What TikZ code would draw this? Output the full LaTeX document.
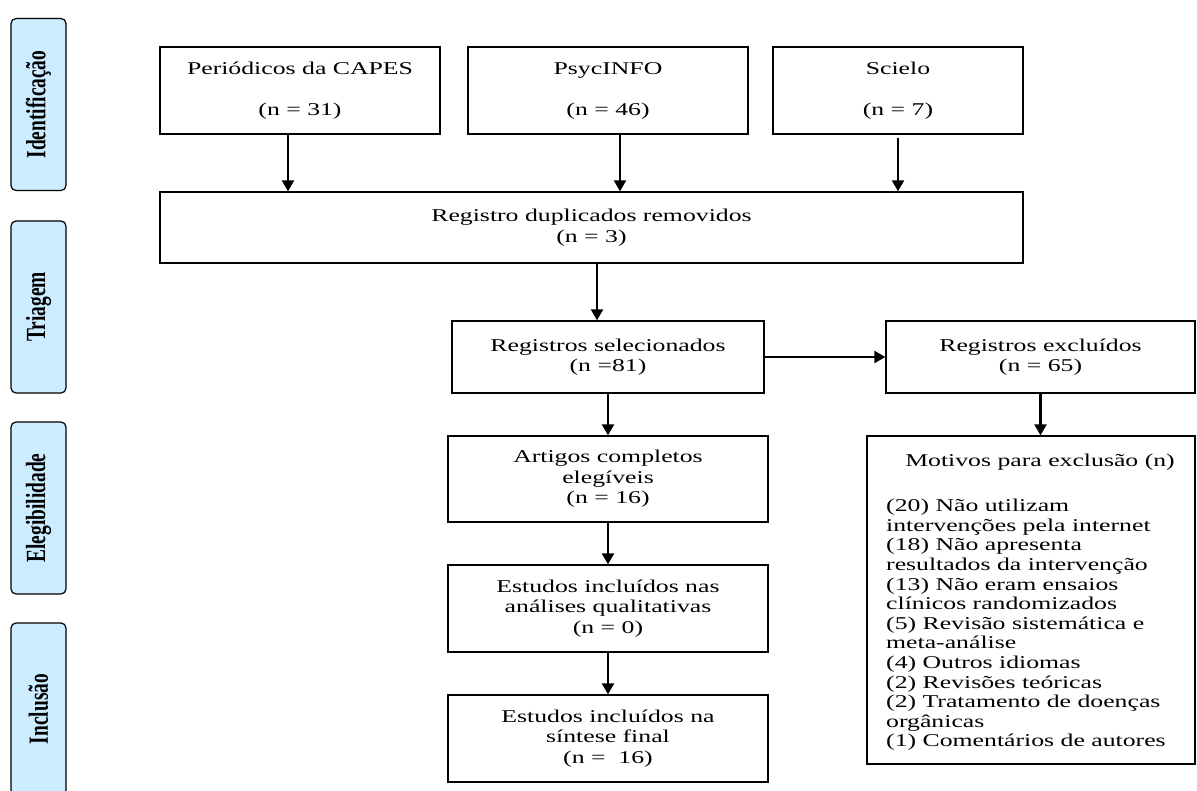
\documentclass[tikz,border=0pt]{standalone}
\usepackage{fontspec}
\setmainfont{Liberation Serif}
\newfontfamily\boxfont[FakeStretch=1.43]{Liberation Serif}
\newfontfamily\phasefont[FakeStretch=0.7]{Liberation Serif}
\usetikzlibrary{arrows.meta}

\definecolor{phaseblue}{RGB}{204,236,255}

\tikzstyle{element}=[rectangle, draw, line width=1.3pt, inner sep=0pt,
                     align=center, font={\boxfont\fontsize{18}{20.5}\selectfont}]
\tikzstyle{phase}=[rectangle, draw, line width=1.2pt, rounded corners=5pt,
                   fill=phaseblue, rotate=90, inner sep=0pt,
                   minimum width=172pt, minimum height=55pt,
                   font={\phasefont\bfseries\fontsize{27.7}{30}\selectfont}]
\tikzstyle{flow}=[-{Triangle[length=11pt,width=12pt]}, line width=2.2pt]

\begin{document}
\begin{tikzpicture}[x=1pt, y=-1pt]

\useasboundingbox (0,0) rectangle (1197,790);

%%%%%%%%%%%%%%%%%%%%%%%%%%%%%%
% phases

\node (ph_id) at (38.5,104.5) [phase] {Identificação};
\node (ph_tr) at (38.5,307) [phase] {Triagem};
\node (ph_el) at (38.5,508) [phase] {Elegibilidade};
\node (ph_in) at (38.5,709) [phase] {Inclusão};

%%%%%%%%%%%%%%%%%%%%%%%%%%%%%%
% nodes

% identificacao
\node (capes) at (300,90.5) [element, minimum width=280pt, minimum height=87pt] {Periódicos da CAPES\\[20.5pt](n = 31)};
\node (psyc) at (608,90.5) [element, minimum width=280pt, minimum height=87pt] {PsycINFO\\[20.5pt](n = 46)};
\node (scielo) at (898,90.5) [element, minimum width=250pt, minimum height=87pt] {Scielo\\[20.5pt](n = 7)};

% triagem
\node (dup) at (591.5,227.5) [element, minimum width=863pt, minimum height=71pt] {Registro duplicados removidos\\(n = 3)};
\node (sel) at (608,357) [element, minimum width=312pt, minimum height=72pt] {Registros selecionados\\(n =81)};
\node (excl) at (1040.5,357) [element, minimum width=309pt, minimum height=72pt] {Registros excluídos\\(n = 65)};

% elegibilidade
\node (artigos) at (608,479) [element, minimum width=320pt, minimum height=86pt] {Artigos completos\\elegíveis\\(n = 16)};

\node (motiv) at (1031,600) [element, minimum width=328pt, minimum height=328pt] {};
\node (motiv_tit) at (1040,462) [font={\boxfont\fontsize{18}{20.5}\selectfont}] {Motivos para exclusão (n)};
\node (motiv_lst) at (886,625) [anchor=west, align=left, inner sep=0pt,
      font={\boxfont\fontsize{18}{19.6}\selectfont}]
      {(20) Não utilizam\\
       intervenções pela internet\\
       (18) Não apresenta\\
       resultados da intervenção\\
       (13) Não eram ensaios\\
       clínicos randomizados\\
       (5) Revisão sistemática e\\
       meta-análise\\
       (4) Outros idiomas\\
       (2) Revisões teóricas\\
       (2) Tratamento de doenças\\
       orgânicas\\
       (1) Comentários de autores};

% inclusao
\node (qualit) at (608,608.5) [element, minimum width=320pt, minimum height=87pt] {Estudos incluídos nas\\análises qualitativas\\(n = 0)};
\node (sintese) at (608,738.5) [element, minimum width=320pt, minimum height=87pt] {Estudos incluídos na\\síntese final\\(n =\ \ 16)};

%%%%%%%%%%%%%%%%%%%%%%%%%%%%%%
% links

\draw [flow] ([xshift=-12pt]capes.south) to ([xshift=-12pt]capes.south |- dup.north);
\draw [flow] ([xshift=12pt]psyc.south) to ([xshift=12pt]psyc.south |- dup.north);
\draw [flow] ([yshift=-3pt]scielo.south) to (scielo.south |- dup.north);

\draw [flow] ([xshift=5.5pt]dup.south) to ([xshift=5.5pt]dup.south |- sel.north);
\draw [flow] (sel.east) to (excl.west);
\draw [flow] (excl.south) to (excl.south |- motiv.north);

\draw [flow] (sel.south) to (artigos.north);
\draw [flow] (artigos.south) to (qualit.north);
\draw [flow] (qualit.south) to (sintese.north);

\end{tikzpicture}
\end{document}
